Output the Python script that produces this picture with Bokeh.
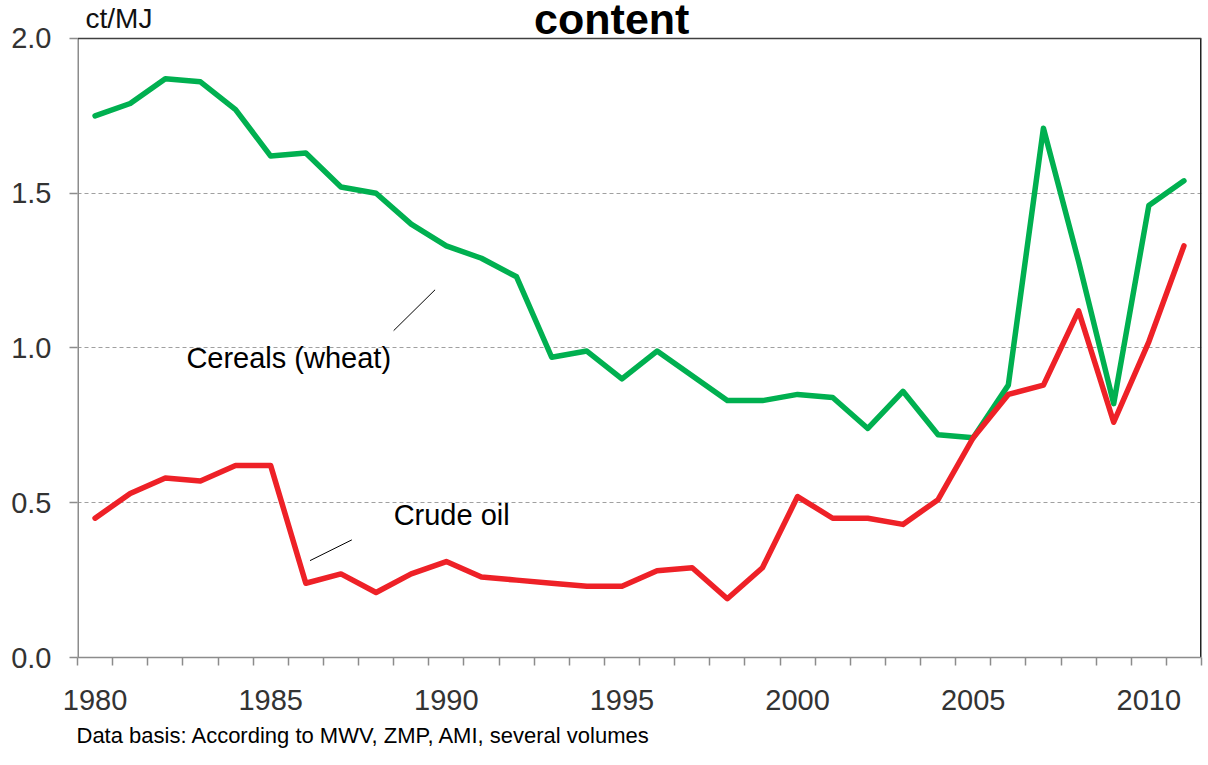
from bokeh.plotting import figure
from bokeh.models import (ColumnDataSource, FixedTicker, PrintfTickFormatter,
                          Label, Span, Range1d, Title)
from bokeh.embed import file_html
from bokeh.resources import INLINE

# ---------------- data ----------------
years = list(range(1980, 2012))
cereals = [1.75, 1.79, 1.87, 1.86, 1.77, 1.62, 1.63, 1.52, 1.50, 1.40,
           1.33, 1.29, 1.23, 0.97, 0.99, 0.90, 0.99, 0.91, 0.83, 0.83,
           0.85, 0.84, 0.74, 0.86, 0.72, 0.71, 0.88, 1.71, 1.28, 0.82,
           1.46, 1.54]
crude_oil = [0.45, 0.53, 0.58, 0.57, 0.62, 0.62, 0.24, 0.27, 0.21, 0.27,
             0.31, 0.26, 0.25, 0.24, 0.23, 0.23, 0.28, 0.29, 0.19, 0.29,
             0.52, 0.45, 0.45, 0.43, 0.51, 0.71, 0.85, 0.88, 1.12, 0.76,
             1.02, 1.33]
x_tick_labels = [1980, 1985, 1990, 1995, 2000, 2005, 2010]
y_ticks = [0.0, 0.5, 1.0, 1.5, 2.0]

FONT = "Liberation Sans"
AXIS_GREY = "#8C8C8C"

# plot frame: value axis 0..2.0 plus headroom above for the heading texts
Y_MAX = 2.0
HEADROOM = 38 / 309.75

src = ColumnDataSource(dict(year=years, cereals=cereals, oil=crude_oil))

x0 = years[0] - 0.5
x1 = years[-1] + 0.5

p = figure(frame_width=1124, frame_height=657, width=1204, height=757,
           min_border_left=77, min_border_right=3, min_border_top=0,
           min_border_bottom=100,
           x_range=Range1d(x0, x1),
           y_range=Range1d(0, Y_MAX + HEADROOM),
           output_backend="svg", toolbar_location=None)
p.outline_line_color = None
p.background_fill_color = "white"
p.border_fill_color = "white"

# grid
p.xgrid.grid_line_color = None
p.ygrid.grid_line_color = "#A0A0A0"
p.ygrid.grid_line_dash = "4 3"
p.ygrid.grid_line_width = 1

# x axis
xa = p.xaxis[0]
xa.ticker = FixedTicker(ticks=x_tick_labels,
                        minor_ticks=[y - 0.5 for y in years] + [x1])
xa.axis_line_color = AXIS_GREY
xa.axis_line_width = 1.5
xa.major_tick_out = 0
xa.major_tick_in = 0
xa.minor_tick_out = 8
xa.minor_tick_in = 0
xa.minor_tick_line_color = AXIS_GREY
xa.minor_tick_line_width = 1.5
xa.major_label_text_font = FONT
xa.major_label_text_font_size = "29px"
xa.major_label_text_color = "#333333"
xa.major_label_standoff = 24

# y axis (line drawn only up to 2.0 below)
ya = p.yaxis[0]
ya.ticker = FixedTicker(ticks=y_ticks, minor_ticks=[])
ya.formatter = PrintfTickFormatter(format="%.1f")
ya.axis_line_color = None
ya.major_tick_out = 8
ya.major_tick_in = 0
ya.major_tick_line_color = AXIS_GREY
ya.major_tick_line_width = 1.5
ya.minor_tick_out = 0
ya.minor_tick_in = 0
ya.major_label_text_font = FONT
ya.major_label_text_font_size = "29px"
ya.major_label_text_color = "#333333"
ya.major_label_standoff = 18

# frame lines: left (grey), top (dark grey), right (near black)
p.line([x0, x0], [0, Y_MAX], line_color=AXIS_GREY, line_width=3)
p.add_layout(Span(location=Y_MAX, dimension="width", line_color="#404040", line_width=1.5))
p.line([x1, x1], [0, Y_MAX], line_color="#222222", line_width=3)

# series
p.line("year", "cereals", source=src, line_color="#00B050", line_width=5.5,
       line_join="round", line_cap="round")
p.line("year", "oil", source=src, line_color="#EE2127", line_width=5.5,
       line_join="round", line_cap="round")

# annotation leader lines
p.line([1988.5, 1989.68], [1.056, 1.188], line_color="black", line_width=1)
p.line([1986.12, 1987.31], [0.313, 0.38], line_color="black", line_width=1)

# texts
p.add_layout(Label(x=1982.6, y=0.943, y_offset=8, text="Cereals (wheat)", text_font=FONT,
                   text_font_size="29px", text_color="black", text_baseline="alphabetic"))
p.add_layout(Label(x=1988.5, y=0.437, y_offset=7, text="Crude oil", text_font=FONT,
                   text_font_size="29px", text_color="black", text_baseline="alphabetic"))
p.add_layout(Label(x=x0, y=Y_MAX, x_offset=8, y_offset=20, text="ct/MJ", text_font=FONT,
                   text_font_size="28px", text_color="#111111", text_baseline="alphabetic"))
p.add_layout(Label(x=1994.71, y=Y_MAX, y_offset=19, text="content", text_font=FONT,
                   text_font_size="43px", text_font_style="bold", text_color="black",
                   text_align="center", text_baseline="alphabetic"))

p.add_layout(Title(text="Data basis: According to MWV, ZMP, AMI, several volumes",
                   align="left", text_font=FONT, text_font_size="22px",
                   text_font_style="normal", text_color="black",
                   standoff=16, offset=-1), "below")

open("out.html", "w").write(file_html(p, INLINE))
